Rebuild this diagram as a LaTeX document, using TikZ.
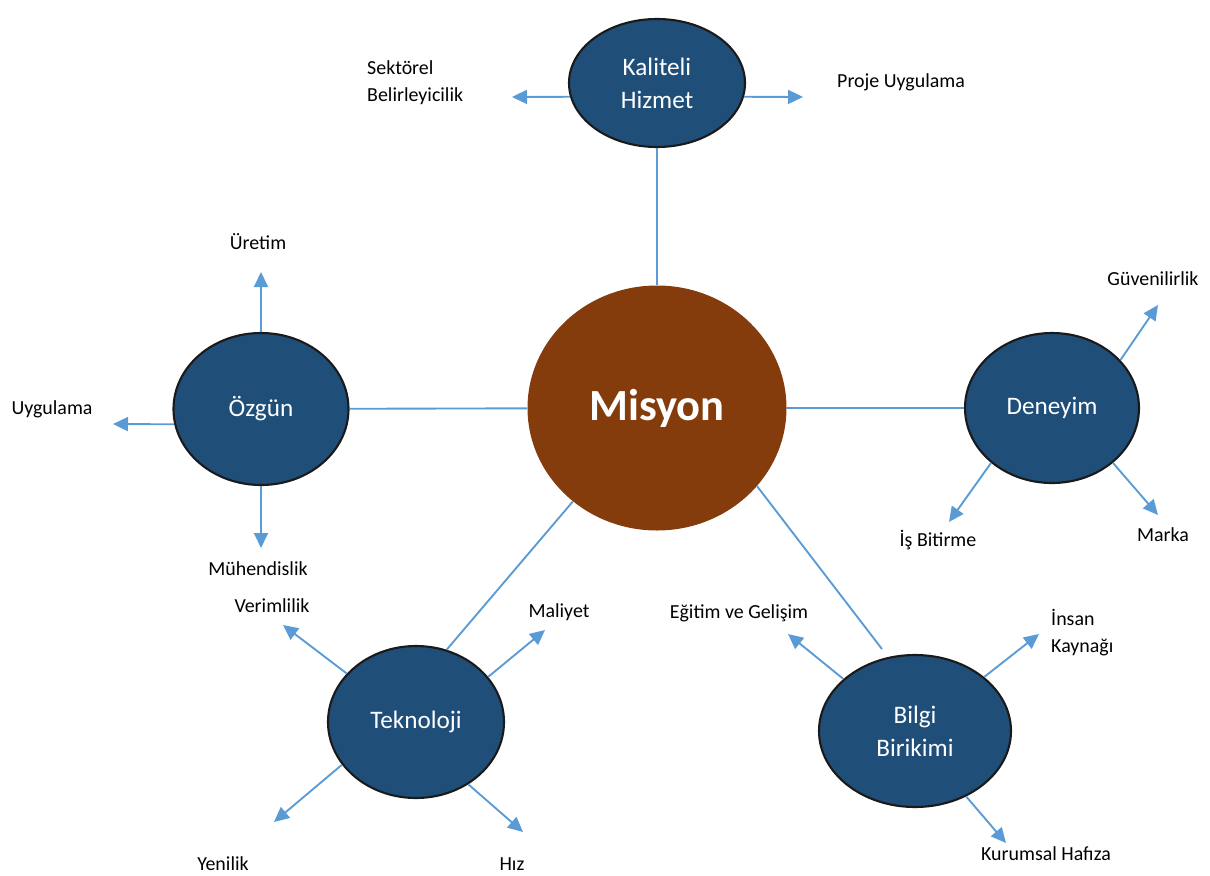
\documentclass[tikz,border=0pt]{standalone}
\usepackage{fontspec}
\setmainfont{Carlito}
\usepackage{tikz}
\usetikzlibrary{shapes, arrows.meta, positioning}
\definecolor{hubblue}{HTML}{1F4E79}
\definecolor{hubbrown}{HTML}{843C0C}
\definecolor{linkblue}{HTML}{5B9BD5}
\definecolor{rimgray}{HTML}{1A1A1A}

\begin{document}
\begin{tikzpicture}
  [
    x=0.3mm, y=-0.3mm,
    Hub/.style={ellipse, draw=rimgray, fill=hubblue, line width=1.8pt, inner sep=0pt, text=white, align=center, font=\fontsize{21.5}{28}\selectfont},
    Core/.style={ellipse, fill=hubbrown, inner sep=0pt, text=white, font=\fontsize{38}{44}\selectfont\bfseries, minimum width=77.7mm, minimum height=73.5mm},
    Tag/.style={inner sep=0pt, font=\fontsize{17}{23}\selectfont},
    Link/.style={draw=linkblue, line width=1.6pt},
    Tip/.style={-{Triangle[length=4.5mm, width=4.2mm]}, draw=linkblue, line width=1.6pt}
  ]
  \useasboundingbox (0, 0) rectangle (1210, 876);

  % Nodes
  \node[Core] (mis) at (657, 408) {Misyon};
  \node[Hub, minimum width=52.8mm, minimum height=38.4mm] (kal) at (657, 83) {Kaliteli\\Hizmet};
  \node[Hub, minimum width=52.5mm, minimum height=45.6mm] (ozg) at (261, 409) {Özgün};
  \node[Hub, minimum width=52.2mm, minimum height=45mm] (den) at (1052, 408) {Deneyim};
  \node[Hub, minimum width=52.8mm, minimum height=45.6mm] (tek) at (416, 722) {Teknoloji};
  \node[Hub, minimum width=57.6mm, minimum height=45.6mm] (bil) at (915, 731) {Bilgi\\Birikimi};

  % Arrow ends
  \coordinate (kal-l) at (512, 97);
  \coordinate (kal-r) at (803, 97);
  \coordinate (ozg-u) at (261, 272);
  \coordinate (ozg-l) at (113, 424);
  \coordinate (ozg-d) at (261, 548);
  \coordinate (den-u) at (1158, 305);
  \coordinate (den-l) at (949, 522);
  \coordinate (den-r) at (1158, 515);
  \coordinate (tek-ul) at (283, 625);
  \coordinate (tek-ur) at (545, 630);
  \coordinate (tek-dl) at (274, 822);
  \coordinate (tek-dr) at (523, 832);
  \coordinate (bil-ul) at (788, 634);
  \coordinate (bil-ur) at (1039, 634);
  \coordinate (bil-d) at (1006, 843);

  % Labels
  \node[Tag, align=left, anchor=west] (sek) at (367, 83) {Sektörel\\Belirleyicilik};
  \node[Tag, anchor=west] (pro) at (837, 82) {Proje Uygulama};
  \node[Tag] (ure) at (258, 242) {Üretim};
  \node[Tag] (uyg) at (52, 409) {Uygulama};
  \node[Tag] (muh) at (258, 569) {Mühendislik};
  \node[Tag] (guv) at (1153, 279) {Güvenilirlik};
  \node[Tag] (isb) at (938, 540) {İş Bitirme};
  \node[Tag] (mar) at (1163, 535) {Marka};
  \node[Tag] (ver) at (272, 606) {Verimlilik};
  \node[Tag] (mal) at (559, 612) {Maliyet};
  \node[Tag] (yen) at (223, 864) {Yenilik};
  \node[Tag] (hiz) at (512, 864) {Hız};
  \node[Tag] (egi) at (739, 613) {Eğitim ve Gelişim};
  \node[Tag, align=left, anchor=west] (ins) at (1051, 633) {İnsan\\Kaynağı};
  \node[Tag] (kur) at (1046, 854) {Kurumsal Hafıza};

  % Lines
  \path [Link] (kal) -- (mis);
  \path [Link] (ozg) -- (mis);
  \path [Link] (mis) -- (den);
  \path [Link] (mis.228.6) -- (tek.67.8);
  \path [Link, shorten >=3mm] (mis.322.7) -- (bil.110.5);

  \path [Tip] (kal.189) -- (kal-l);
  \path [Tip] (kal.351) -- (kal-r);
  \path [Tip] (ozg.north) -- (ozg-u);
  \path [Tip] (ozg.190) -- (ozg-l);
  \path [Tip] (ozg.south) -- (ozg-d);
  \path [Tip] (den.35.3) -- (den-u);
  \path [Tip] (den.222.6) -- (den-l);
  \path [Tip] (den.318.8) -- (den-r);
  \path [Tip] (tek.145.8) -- (tek-ul);
  \path [Tip] (tek.32.4) -- (tek-ur);
  \path [Tip] (tek.210.5) -- (tek-dl);
  \path [Tip] (tek.310.5) -- (tek-dr);
  \path [Tip] (bil.144.2) -- (bil-ul);
  \path [Tip] (bil.38.8) -- (bil-ur);
  \path [Tip] (bil.308.5) -- (bil-d);

\end{tikzpicture}
\end{document}
